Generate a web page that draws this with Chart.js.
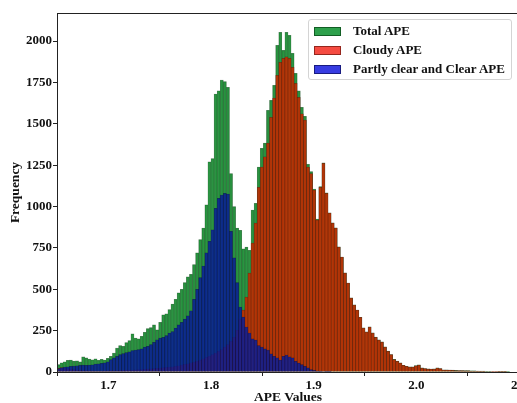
<!DOCTYPE html>
<html>
<head>
<meta charset="utf-8">
<script src="https://cdn.jsdelivr.net/npm/chart.js@4.4.1/dist/chart.umd.min.js"></script>
<style>
    body { margin: 0; background: #fff; }
    #wrap { position: relative; width: 517px; height: 403px; overflow: hidden; }
    #legend {
        position: absolute; left: 308px; top: 19px; width: 204px; height: 61px;
        box-sizing: border-box; border: 1px solid #d4d4d4; border-radius: 3px;
        background: rgba(255, 255, 255, 0.85);
        font: bold 13px 'Liberation Serif', 'Times New Roman', serif; color: #111;
    }
    .item { position: absolute; left: 5px; height: 19px; line-height: 19px; white-space: nowrap; }
    .swatch { display: inline-block; width: 27px; height: 9px; margin-right: 12px; vertical-align: -1px; box-sizing: border-box; }
</style>
</head>
<body>
<div id="wrap">
    <canvas id="myChart" width="530" height="410"></canvas>
    <div id="legend"></div>
</div>
<script>
// histogram bins: 0.003 wide starting at 1.65
const binStart = 1.65;
const binWidth = 0.003;

const seriesNames = ['Total APE', 'Cloudy APE', 'Partly clear and Clear APE'];

const totalApe = [
    45, 55, 62, 70, 72, 66, 68, 62, 92, 85,
    78, 74, 80, 70, 76, 72, 82, 95, 115, 145,
    160, 155, 178, 190, 230, 205, 200, 215, 240, 262,
    268, 285, 255, 300, 345, 352, 378, 410, 440, 478,
    500, 540, 575, 590, 650, 720, 800, 870, 1010, 1270,
    1290, 1680, 1700, 1765, 1755, 1720, 1200, 1000, 870, 857,
    745, 755, 736, 978, 1020, 1238, 1352, 1383, 1582, 1642,
    1733, 1975, 2053, 1944, 2053, 2035, 1926, 1805, 1700, 1600,
    1545, 1255, 1212, 1106, 924, 1121, 1265, 1083, 962, 901,
    871, 756, 695, 599, 538, 448, 406, 375, 331, 267,
    243, 273, 237, 211, 194, 182, 152, 126, 106, 76,
    66, 55, 41, 35, 31, 31, 39, 43, 25, 21,
    19, 18, 19, 25, 21, 13, 13, 12, 11, 10,
    9, 9, 8, 8, 7, 7, 6, 5, 5, 4,
    4, 3, 3, 2, 2, 1, 1, 0
];

const cloudyApe = [
    22, 26, 24, 20, 18, 15, 12, 10, 9, 8,
    7, 7, 6, 6, 6, 7, 7, 8, 8, 9,
    10, 10, 11, 12, 12, 13, 14, 15, 16, 18,
    19, 20, 22, 24, 26, 28, 30, 32, 35, 38,
    42, 46, 50, 55, 60, 66, 72, 80, 88, 96,
    105, 115, 125, 135, 150, 165, 185, 210, 253, 320,
    374, 453, 598, 779, 900, 1117, 1238, 1300, 1383, 1540,
    1655, 1793, 1872, 1896, 1905, 1896, 1842, 1745, 1660, 1560,
    1522, 1238, 1200, 1099, 918, 1117, 1262, 1080, 960, 900,
    870, 755, 694, 598, 537, 447, 405, 374, 330, 266,
    242, 272, 236, 210, 193, 181, 151, 125, 105, 75,
    65, 54, 40, 34, 30, 30, 38, 42, 24, 20,
    18, 17, 18, 24, 20, 12, 12, 11, 10, 9,
    8, 8, 7, 7, 6, 6, 5, 4, 4, 3,
    3, 2, 2, 1, 1, 1, 0, 0
];

const clearApe = [
    20, 25, 30, 32, 34, 36, 38, 40, 42, 40,
    42, 44, 48, 50, 52, 55, 62, 75, 85, 95,
    105, 112, 118, 122, 130, 133, 135, 140, 150, 155,
    165, 180, 195, 205, 210, 220, 235, 245, 265, 285,
    300, 320, 340, 370, 440, 500, 570, 640, 720, 790,
    860, 990, 1050, 1070, 1080, 1075, 850, 690, 540, 392,
    332, 272, 236, 200, 193, 160, 151, 140, 133, 110,
    95, 85, 72, 95, 103, 92, 85, 65, 54, 45,
    35, 25, 15, 10, 6, 4, 3, 2, 1, 0,
    0, 0, 0, 0, 0, 0, 0, 0, 0, 0,
    0, 0, 0, 0, 0, 0, 0, 0, 0, 0,
    0, 0, 0, 0, 0, 0, 0, 0, 0, 0,
    0, 0, 0, 0, 0, 0, 0, 0, 0, 0,
    0, 0, 0, 0, 0, 0, 0, 0, 0, 0,
    0, 0, 0, 0, 0, 0, 0, 0
];

const xTicks = [1.7, 1.8, 1.9, 2.0, 2.1];
const yTicks = [0, 250, 500, 750, 1000, 1250, 1500, 1750, 2000];

const binCenters = totalApe.map((_, i) => +(binStart + binWidth * (i + 0.5)).toFixed(4));

// bar colours (they sit on top of each other), legend swatch colours as seen on white
const fills = ['rgba(20, 135, 45, 0.9)', 'rgba(200, 40, 0, 0.85)', 'rgba(10, 30, 150, 0.85)'];
const edges = ['rgba(0, 50, 10, 0.6)', 'rgba(70, 10, 0, 0.55)', 'rgba(0, 0, 50, 0.55)'];
const swatches = ['rgb(45, 160, 75)', 'rgb(245, 75, 65)', 'rgb(55, 60, 225)'];

const fontFamily = "'Liberation Serif', 'Times New Roman', serif";

// draws the top and right sides of the axes box
const framePlugin = {
    id: 'frame',
    afterDatasetsDraw(chart) {
        const { ctx, chartArea } = chart;
        ctx.save();
        ctx.strokeStyle = '#222';
        ctx.lineWidth = 1;
        ctx.strokeRect(Math.round(chartArea.left) + 0.5, Math.round(chartArea.top) + 0.5,
            Math.round(chartArea.width), Math.round(chartArea.height));
        ctx.restore();
    }
};

const ctx = document.getElementById('myChart').getContext('2d');

const chart = new Chart(ctx, {
    type: 'bar',
    data: {
        labels: binCenters,
        datasets: [
            { label: seriesNames[0], data: totalApe, backgroundColor: fills[0], borderColor: edges[0], order: 3 },
            { label: seriesNames[1], data: cloudyApe, backgroundColor: fills[1], borderColor: edges[1], order: 2 },
            { label: seriesNames[2], data: clearApe, backgroundColor: fills[2], borderColor: edges[2], order: 1 }
        ]
    },
    options: {
        responsive: false,
        animation: false,
        devicePixelRatio: 1,
        layout: { padding: { top: 13, right: 11, left: 0, bottom: 0 } },
        datasets: {
            bar: {
                grouped: false,
                barPercentage: 1,
                categoryPercentage: 1,
                borderWidth: 0.5,
                borderSkipped: 'start'
            }
        },
        scales: {
            x: {
                type: 'linear',
                offset: false,
                min: 1.65,
                max: 2.1,
                afterBuildTicks: scale => { scale.ticks = xTicks.map(v => ({ value: v })); },
                afterFit: scale => { scale.height = 38; },
                ticks: {
                    maxRotation: 0,
                    padding: 2,
                    color: '#111',
                    font: { family: fontFamily, size: 13, weight: 'bold' },
                    callback: v => v.toFixed(1)
                },
                grid: { drawOnChartArea: false, drawTicks: true, tickLength: 4, color: '#222' },
                border: { display: true, color: '#222', width: 1 },
                title: {
                    display: true,
                    text: 'APE Values',
                    color: '#111',
                    padding: { top: 0, bottom: 4 },
                    font: { family: fontFamily, size: 13.5, weight: 'bold' }
                }
            },
            y: {
                min: 0,
                max: 2170,
                afterBuildTicks: scale => { scale.ticks = yTicks.map(v => ({ value: v })); },
                afterFit: scale => { scale.width = 57; },
                ticks: {
                    padding: 1,
                    color: '#111',
                    font: { family: fontFamily, size: 13, weight: 'bold' },
                    callback: v => String(v)
                },
                grid: { drawOnChartArea: false, drawTicks: true, tickLength: 4, color: '#222' },
                border: { display: true, color: '#222', width: 1 },
                title: {
                    display: true,
                    text: 'Frequency',
                    color: '#111',
                    padding: { top: 7, bottom: 0 },
                    font: { family: fontFamily, size: 13.5, weight: 'bold' }
                }
            }
        },
        plugins: {
            legend: { display: false },
            tooltip: { enabled: false }
        }
    },
    plugins: [framePlugin]
});

// legend drawn as html on top of the plot area
const legend = document.getElementById('legend');
seriesNames.forEach((name, i) => {
    const row = document.createElement('div');
    row.className = 'item';
    row.style.top = (1 + i * 19) + 'px';
    const sw = document.createElement('span');
    sw.className = 'swatch';
    sw.style.background = swatches[i];
    sw.style.border = '1px solid ' + edges[i];
    row.appendChild(sw);
    row.appendChild(document.createTextNode(name));
    legend.appendChild(row);
});
</script>
</body>
</html>
